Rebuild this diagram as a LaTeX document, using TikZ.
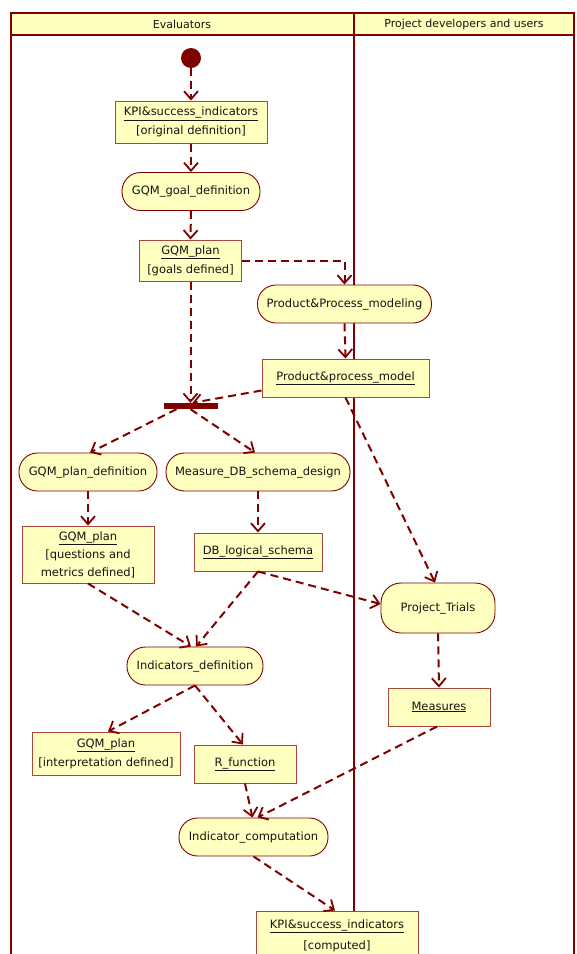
\documentclass[tikz,border=0pt]{standalone}
\usepackage{fontspec}
\setmainfont{DejaVu Sans}
\usetikzlibrary{arrows.meta,calc}
\definecolor{lane}{RGB}{128,0,0}
\definecolor{nodefill}{RGB}{255,255,192}
\definecolor{headfill}{RGB}{255,255,190}
\definecolor{nodeborder}{RGB}{170,70,60}
\definecolor{txt}{RGB}{20,20,20}
\begin{document}
\begin{tikzpicture}[x=1pt,y=-1pt,
  action/.style={draw=lane, line width=0.9pt, fill=nodefill, rounded corners=18.5pt, minimum height=38pt, inner sep=0pt, text=txt, font=\fontsize{11.5}{14}\selectfont},
  objbox/.style={draw=nodeborder, line width=1pt, fill=nodefill, inner sep=0pt, text=txt, align=center, font=\fontsize{11.5}{19}\selectfont},
  flow/.style={draw=lane, line width=2pt, dash pattern=on 8pt off 5pt, -{Straight Barb[length=8pt,width=14pt,line width=1.8pt]}},
  laneline/.style={draw=lane, line width=2pt},
  lanehead/.style={text=txt, font=\fontsize{11}{13}\selectfont},
]
\useasboundingbox (0,0) rectangle (577,954);
% swimlanes
\fill[headfill] (11,13) rectangle (574,35);
\draw[laneline] (11,960) -- (11,13) -- (574,13) -- (574,960);
\draw[laneline] (11,35) -- (574,35);
\draw[laneline] (354,13) -- (354,960);
\node[lanehead] (laneA) at (182,24) {Evaluators};
\node[lanehead] (laneB) at (464,24) {Project developers and users};

% nodes
\node[circle, fill=lane, minimum size=20pt, inner sep=0pt] (start) at (191,58) {};
\node[objbox, minimum width=152pt, minimum height=42pt] (kpi1) at (191,122) {\underline{KPI\&success\_indicators}\\{[original definition]}};
\node[action, minimum width=138pt] (goal) at (191,191.5) {GQM\_goal\_definition};
\node[objbox, minimum width=102pt, minimum height=41pt] (plan1) at (190.5,260.5) {\underline{GQM\_plan}\\{[goals defined]}};
\node[action, minimum width=174pt] (pm) at (344.5,304) {Product\&Process\_modeling};
\node[objbox, minimum width=167pt, minimum height=38pt] (model) at (345.5,378) {\raisebox{4pt}{\underline{Product\&process\_model}}};
\node[fill=lane, minimum width=54pt, minimum height=6pt, inner sep=0pt] (fork) at (190.5,406) {};
\node[action, minimum width=138pt] (gpd) at (88,472) {GQM\_plan\_definition};
\node[action, minimum width=184pt] (msd) at (258,472) {Measure\_DB\_schema\_design};
\node[objbox, minimum width=132pt, minimum height=57pt, font=\fontsize{11.5}{18}\selectfont] (plan2) at (88,554.5) {\underline{GQM\_plan}\\{[questions and}\\metrics defined]};
\node[objbox, minimum width=128pt, minimum height=38pt] (db) at (258,552) {\underline{DB\_logical\_schema}};
\node[action, minimum width=114pt, minimum height=50pt, rounded corners=20pt] (trials) at (438,608) {Project\_Trials};
\node[action, minimum width=136pt] (ind) at (195,666) {Indicators\_definition};
\node[objbox, minimum width=148pt, minimum height=43pt] (plan3) at (106,753.5) {\underline{GQM\_plan}\\{[interpretation defined]}};
\node[objbox, minimum width=102pt, minimum height=38pt] (rf) at (245,764) {\raisebox{3pt}{\underline{R\_function}}};
\node[objbox, minimum width=102pt, minimum height=38pt] (meas) at (439,707) {\underline{Measures}};
\node[action, minimum width=149pt] (comp) at (253.5,837) {Indicator\_computation};
\node[objbox, minimum width=162pt, minimum height=49pt] (kpi2) at (337,935.5) {\raisebox{2pt}{\underline{KPI\&success\_indicators}}\\{[computed]}};

% flows
\draw[flow] (start) -- (kpi1.north);
\draw[flow] (kpi1.south) -- (goal.north);
\draw[flow] (goal.south) -- (plan1.north);
\draw[flow] (plan1.east) -| (pm.north);
\draw[flow] (pm.south) -- (model.north);
\draw[flow] (plan1.south) -- (fork.north);
\draw[flow] ([yshift=7pt]model.south west) -- ([xshift=2pt]fork.north);
\draw[flow] ([xshift=-14pt]fork.south) -- ([xshift=2pt]gpd.north);
\draw[flow] (fork.south) -- ([xshift=-3pt]msd.north);
\draw[flow] (gpd.south) -- (plan2.north);
\draw[flow] (msd.south) -- (db.north);
\draw[flow] (model.south) -- ([xshift=-3pt]trials.north);
\draw[flow] (db.south) -- ([yshift=4pt]trials.west);
\draw[flow] (db.south) -- ([xshift=1pt]ind.north);
\draw[flow] (plan2.south) -- ([xshift=-4pt]ind.north);
\draw[flow] (ind.south) -- ([xshift=2pt]plan3.north);
\draw[flow] (ind.south) -- ([xshift=-2pt]rf.north);
\draw[flow] (trials.south) -- (meas.north);
\draw[flow] (rf.south) -- ([xshift=-1pt]comp.north);
\draw[flow] ([xshift=-2pt]meas.south) -- ([xshift=4pt]comp.north);
\draw[flow] (comp.south) -- ([xshift=-2pt]kpi2.north);
\end{tikzpicture}
\end{document}
